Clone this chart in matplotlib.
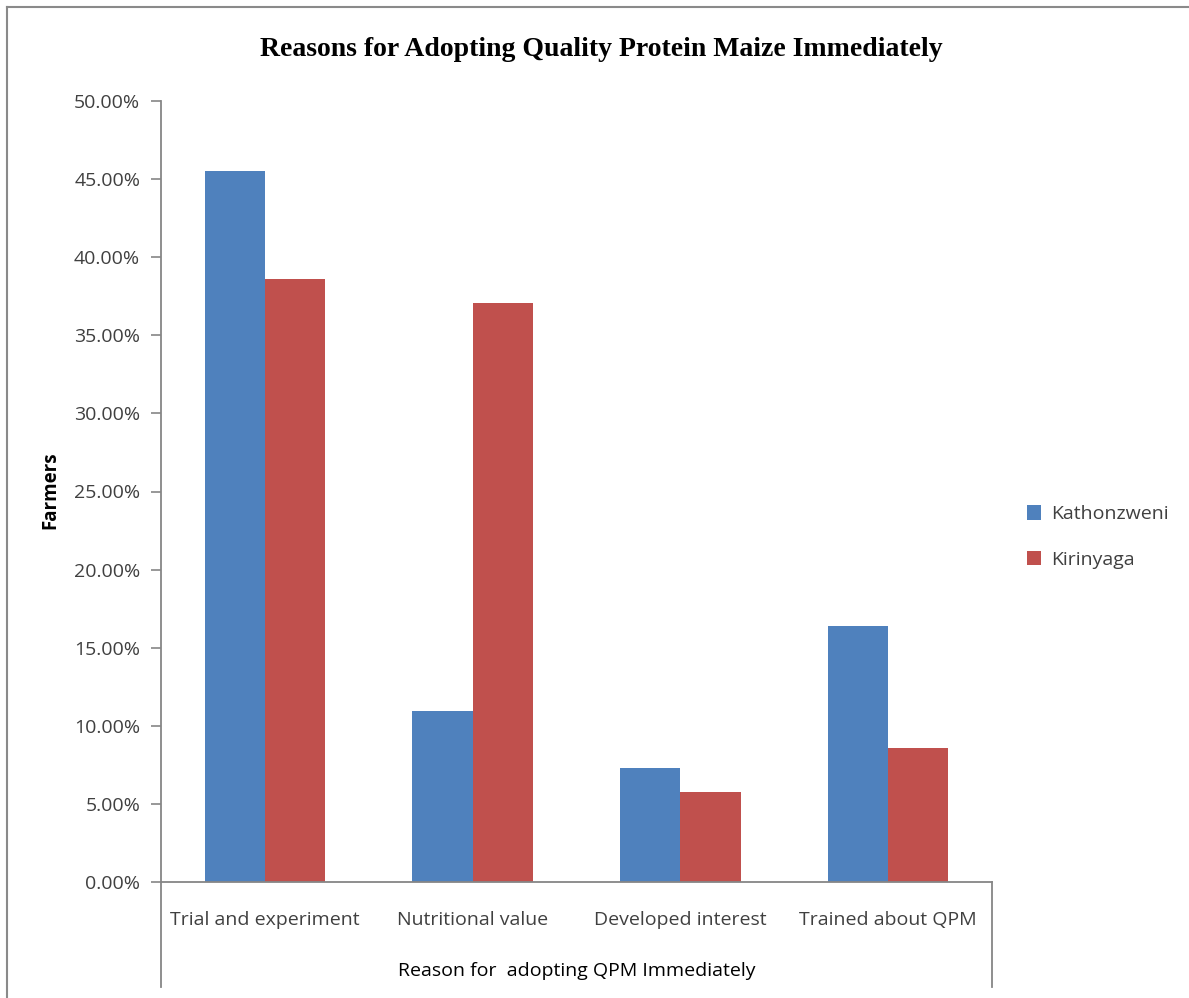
import matplotlib
matplotlib.use("Agg")
import matplotlib.pyplot as plt
from matplotlib.lines import Line2D
from matplotlib.ticker import FuncFormatter
import numpy as np

categories = ["Trial and experiment", "Nutritional value", "Developed interest", "Trained about QPM"]
series_names = ["Kathonzweni", "Kirinyaga"]
kathonzweni = [45.5, 10.95, 7.3, 16.4]
kirinyaga = [38.6, 37.05, 5.75, 8.6]
yticks = [0, 5, 10, 15, 20, 25, 30, 35, 40, 45, 50]

blue = "#4f81bd"
red = "#c0504d"
txt = "#404040"
font = "Open Sans"

W, H = 1189, 998
fig = plt.figure(figsize=(W / 100, H / 100), dpi=100)
ax = fig.add_axes([161 / W, 1 - 882 / H, (992 - 161) / W, (882 - 101) / H])

x = np.arange(len(categories))
bw = 0.29
ax.bar(x - bw / 2, kathonzweni, bw, color=blue, label=series_names[0])
ax.bar(x + bw / 2, kirinyaga, bw, color=red, label=series_names[1])

ax.set_xlim(-0.5, len(categories) - 0.5)
ax.set_ylim(0, 50)
ax.set_yticks(yticks)
ax.yaxis.set_major_formatter(FuncFormatter(lambda v, p: f"{v:.2f}%"))
ax.set_xticks(x)
ax.set_xticklabels(categories, fontfamily=font, fontsize=14, color=txt)
ax.tick_params(axis="x", length=0, pad=21)
ax.tick_params(axis="y", length=7, width=1.2, color="#868686", pad=8,
               labelsize=14, labelcolor=txt)
for lab in ax.get_yticklabels():
    lab.set_fontfamily(font)

for s in ["top", "right"]:
    ax.spines[s].set_visible(False)
for s in ["left", "bottom"]:
    ax.spines[s].set_color("#868686")
    ax.spines[s].set_linewidth(1.3)

# box below axis (category area)
depth = (987 - 882) / (882 - 101)
for xx in (0, 1):
    ax.add_line(Line2D([xx, xx], [0, -depth], transform=ax.transAxes,
                       color="#868686", lw=1.3, clip_on=False))

ax.set_xlabel("Reason for  adopting QPM Immediately", fontfamily=font,
              fontsize=14, color="black", labelpad=24)

fig.text(50 / W, 1 - 490 / H, "Farmers", rotation=90, ha="center", va="center",
         fontfamily=font, fontsize=13.5, fontweight="bold", color="black")

fig.text(601 / W, 1 - 50 / H, "Reasons for Adopting Quality Protein Maize Immediately",
         ha="center", va="center", fontfamily="Liberation Serif", fontweight="bold",
         fontsize=20, color="black")

leg = fig.legend(loc="center left", bbox_to_anchor=(1009 / W, 1 - 537 / H),
                 frameon=False, prop={"family": font, "size": 14},
                 handlelength=0.75, handleheight=0.75, handletextpad=0.5,
                 labelspacing=1.4)
for t in leg.get_texts():
    t.set_color(txt)

# outer frame (partially visible)
fig.add_artist(Line2D([7 / W, 7 / W], [0, 1 - 7 / H], transform=fig.transFigure,
                      color="#8a8a8a", lw=1.5))
fig.add_artist(Line2D([7 / W, 1], [1 - 7 / H, 1 - 7 / H], transform=fig.transFigure,
                      color="#8a8a8a", lw=1.5))

fig.savefig("out.png", dpi=100, facecolor="white")
